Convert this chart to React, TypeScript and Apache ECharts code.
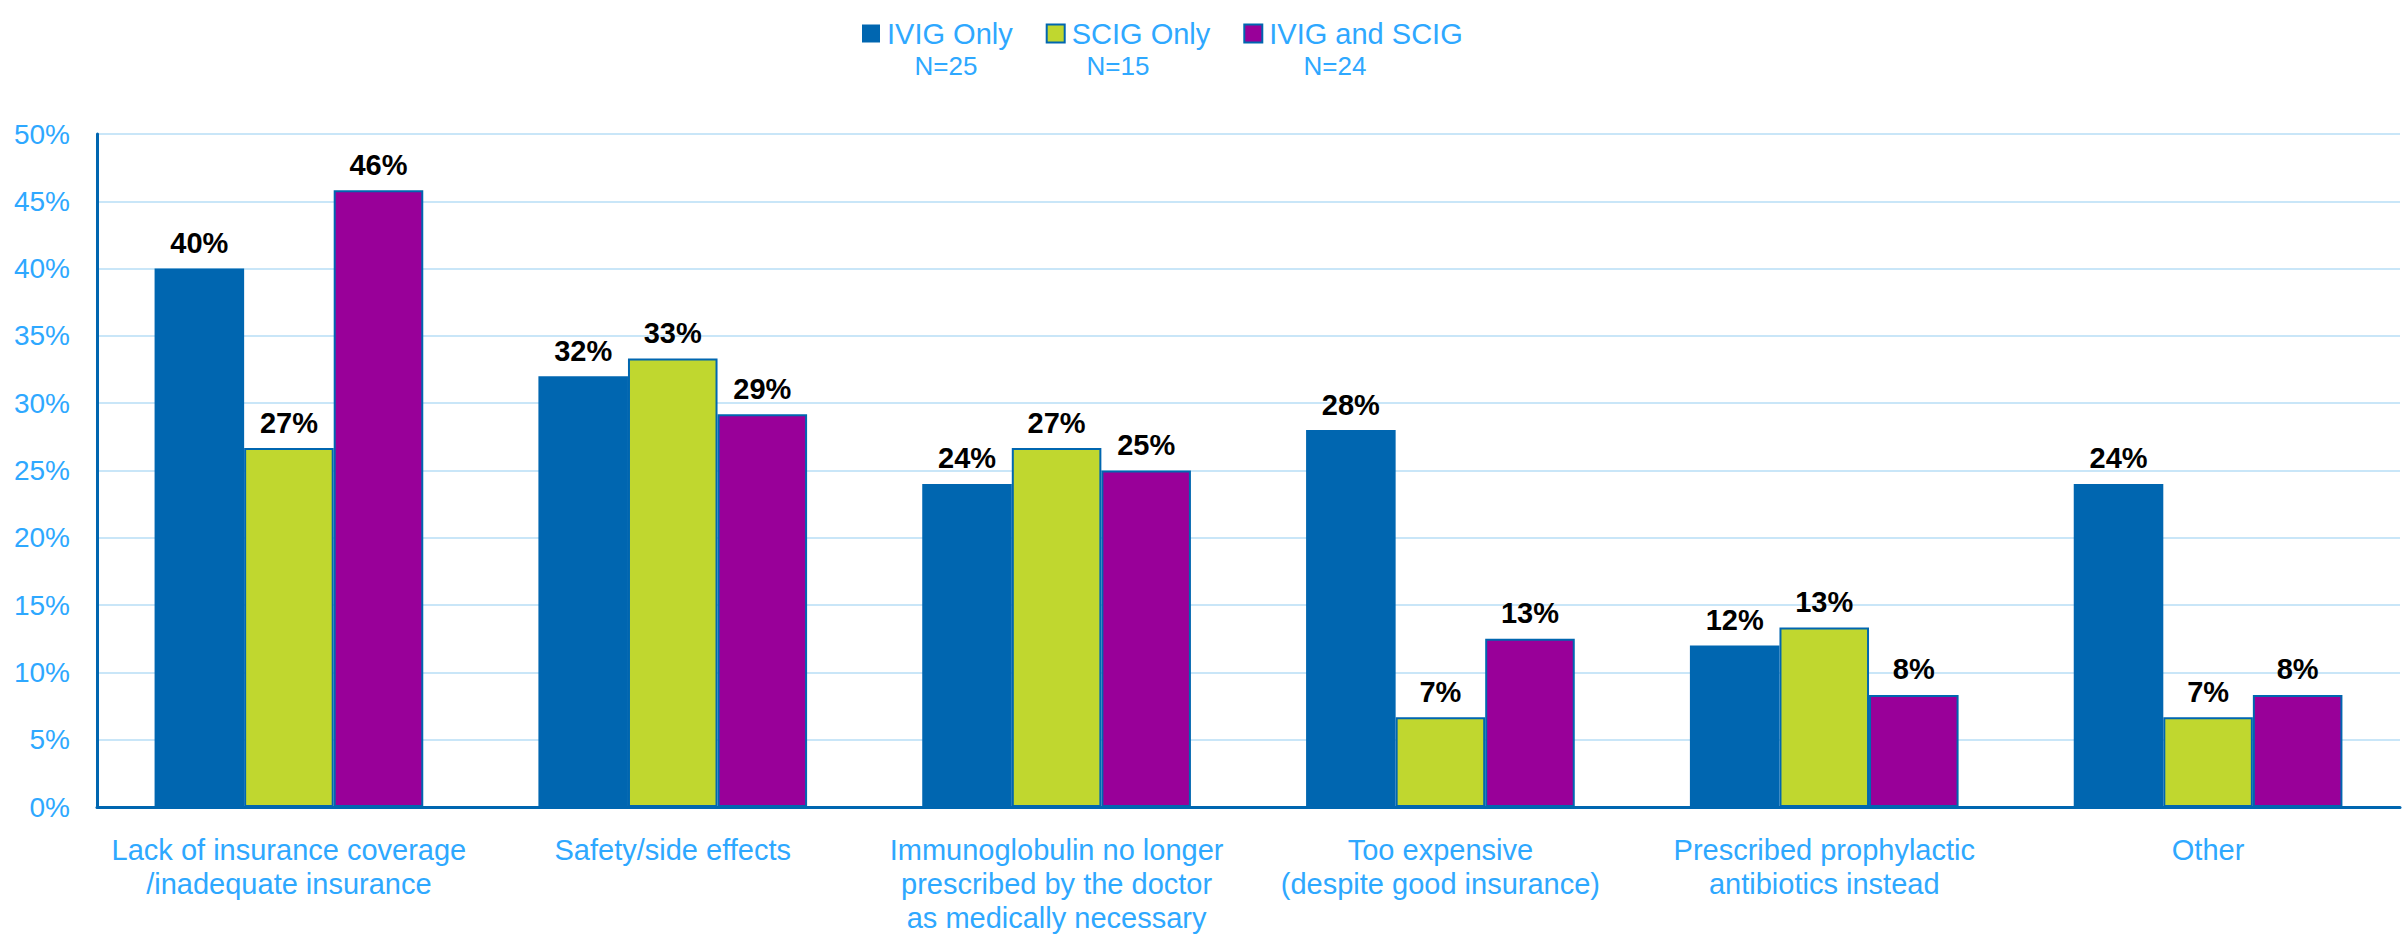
import React, { useEffect, useRef } from "react";
import * as echarts from "echarts";

const categories = [
  "Lack of insurance coverage\n/inadequate insurance",
  "Safety/side effects",
  "Immunoglobulin no longer\nprescribed by the doctor\nas medically necessary",
  "Too expensive\n(despite good insurance)",
  "Prescribed prophylactic\nantibiotics instead",
  "Other",
];
const seriesNames = ["IVIG Only", "SCIG Only", "IVIG and SCIG"];
const nLabels = ["N=25", "N=15", "N=24"];
const ivigOnly = [40, 32, 24, 28, 12, 24];
const scigOnly = [26.67, 33.33, 26.67, 6.67, 13.33, 6.67];
const ivigAndScig = [45.83, 29.17, 25, 12.5, 8.33, 8.33];
const yTicks = { min: 0, max: 50, interval: 5 };

const colors = ["#0066B0", "#C0D72F", "#990099"];
const axisBlue = "#0066B0";
const textBlue = "#2EA8FF";
const font = "'Liberation Sans', Arial, Helvetica, sans-serif";

export default function App() {
  const ref = useRef<HTMLDivElement>(null);
  useEffect(() => {
    document.body.style.margin = "0";
    if (!ref.current) return;
    const chart = echarts.init(ref.current, undefined, { renderer: "svg" });
    const dataSets = [ivigOnly, scigOnly, ivigAndScig];
    chart.setOption({
      animation: false,
      textStyle: { fontFamily: font },
      legend: {
        left: 857,
        top: 14,
        itemWidth: 18,
        itemHeight: 18,
        itemGap: 33,
        icon: "rect",
        textStyle: { color: textBlue, fontSize: 29, fontFamily: font, padding: [0, 0, 0, 2] },
        data: seriesNames,
      },
      graphic: nLabels.map((t, i) => ({
        type: "text",
        x: [946, 1118, 1335][i],
        y: 66,
        style: {
          text: t,
          fill: textBlue,
          fontSize: 26,
          fontFamily: font,
          align: "center",
          verticalAlign: "middle",
        },
      })),
      grid: { left: 97, right: 8, top: 134, bottom: 127, containLabel: false },
      xAxis: {
        type: "category",
        data: categories,
        axisLine: { lineStyle: { color: axisBlue, width: 3 } },
        axisTick: { show: false },
        axisLabel: {
          color: textBlue,
          fontSize: 29,
          lineHeight: 34,
          margin: 26,
          fontFamily: font,
          interval: 0,
        },
      },
      yAxis: {
        type: "value",
        min: yTicks.min,
        max: yTicks.max,
        interval: yTicks.interval,
        axisLine: { show: true, lineStyle: { color: axisBlue, width: 3 } },
        axisTick: { show: false },
        splitLine: { lineStyle: { color: "#C9E6F8", width: 2 } },
        axisLabel: {
          color: textBlue,
          fontSize: 28,
          margin: 27,
          fontFamily: font,
          formatter: "{value}%",
        },
      },
      series: seriesNames.map((name, i) => ({
        name,
        type: "bar",
        data: dataSets[i],
        barGap: "0%",
        barCategoryGap: "30%",
        itemStyle: {
          color: colors[i],
          borderColor: axisBlue,
          borderWidth: i === 0 ? 0 : 2,
        },
        label: {
          show: true,
          position: "top",
          distance: 11,
          color: "#000",
          fontWeight: "bold",
          fontSize: 29,
          fontFamily: font,
          formatter: (p: any) => Math.round(p.value) + "%",
        },
      })),
    });
    return () => chart.dispose();
  }, []);
  return <div ref={ref} style={{ width: 2408, height: 935 }} />;
}
